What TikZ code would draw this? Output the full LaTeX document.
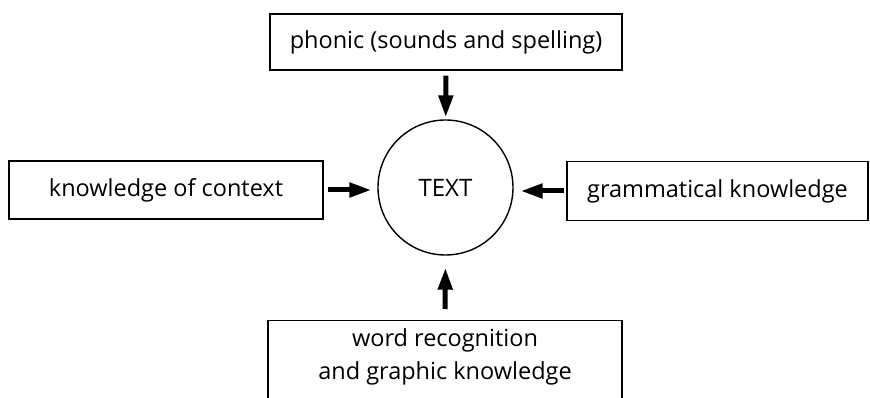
\documentclass[tikz,border=0pt]{standalone}
\usepackage{fontspec}
\setmainfont{Open Sans}
\usetikzlibrary{arrows.meta}
\begin{document}
\begin{tikzpicture}[x=1pt,y=-1pt,
  box/.style={draw, line width=1.4pt, rectangle, inner sep=0pt, font=\fontsize{23.5}{30}\selectfont},
  lbl/.style={inner sep=0pt, align=center, font=\fontsize{23.5}{33}\selectfont},
  arr/.style={line width=5pt, -{Triangle[length=22pt,width=14pt]}}]
\useasboundingbox (0,0) rectangle (870,398);
\clip (0,0) rectangle (870,398);
\node[draw, circle, line width=1.4pt, minimum size=135pt, inner sep=0pt, font=\fontsize{24}{28}\selectfont] (text) at (445.5,187.5) {TEXT};
\node[box, minimum width=352pt, minimum height=56pt] (top) at (446,42) {phonic (sounds and spelling)};
\node[box, minimum width=314pt, minimum height=58pt] (left) at (166,190) {knowledge of context};
\node[box, minimum width=301pt, minimum height=59pt] (right) at (717.5,191) {grammatical knowledge};
\node[box, minimum width=354pt, minimum height=110pt, anchor=north] (bot) at (445,320) {};
\node[lbl] (bottxt) at (445,357) {word recognition\\and graphic knowledge};
\draw[arr, shorten <=5pt, shorten >=2pt] (top) -- (text);
\draw[arr, shorten <=4pt, shorten >=6pt] (left.east) -- (left.east -| text.west);
\draw[arr, shorten <=2pt, shorten >=7pt] (right.west) -- (right.west -| text.east);
\draw[arr, shorten <=11pt, shorten >=12pt] (bot.north) -- (text.south);
\end{tikzpicture}
\end{document}
